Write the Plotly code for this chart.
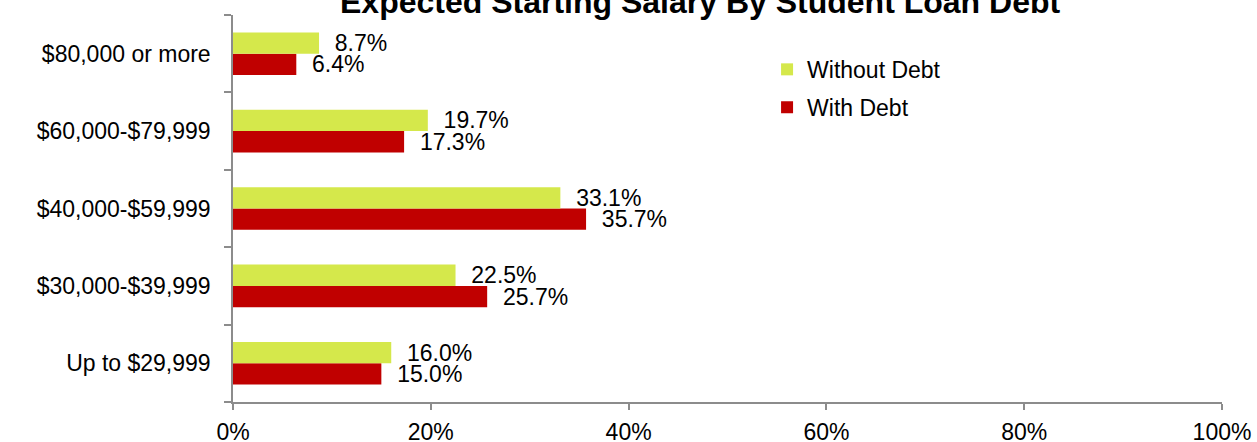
import plotly.graph_objects as go

categories = ["Up to $29,999", "$30,000-$39,999", "$40,000-$59,999",
              "$60,000-$79,999", "$80,000 or more"]
without_debt = [16.0, 22.5, 33.1, 19.7, 8.7]
with_debt = [15.0, 25.7, 35.7, 17.3, 6.4]
x_ticks = [0, 20, 40, 60, 80, 100]
x_tick_labels = [f"{v}%" for v in x_ticks]
title_text = "Expected Starting Salary By Student Loan Debt"

FONT = "Liberation Sans, Arial, sans-serif"
GRAY = "#8c8c8c"
NB = "\u00a0\u00a0"

fig = go.Figure()
fig.add_trace(go.Bar(
    y=categories, x=with_debt, orientation="h", name="With Debt",
    marker=dict(color="#C00000", line=dict(width=0)),
    text=[f"{NB}{v:.1f}%" for v in with_debt], textposition="outside",
    textfont=dict(size=23, color="black", family=FONT),
    cliponaxis=False, legendgroup="b", legendrank=2,
))
fig.add_trace(go.Bar(
    y=categories, x=without_debt, orientation="h", name="Without Debt",
    marker=dict(color="#D5E84B", line=dict(width=0)),
    text=[f"{NB}{v:.1f}%" for v in without_debt], textposition="outside",
    textfont=dict(size=23, color="black", family=FONT),
    cliponaxis=False, legendgroup="a", legendrank=1,
))

fig.update_layout(
    width=1257, height=442,
    margin=dict(l=233, r=35, t=15, b=40, pad=0, autoexpand=False),
    paper_bgcolor="white", plot_bgcolor="white",
    barmode="group", bargap=0.45, bargroupgap=0,
    font=dict(family=FONT, size=23, color="black"),
    showlegend=True,
    legend=dict(x=0.540, y=0.915, xanchor="left", yanchor="top",
                traceorder="grouped", tracegroupgap=5,
                font=dict(size=23, family=FONT), bgcolor="rgba(0,0,0,0)"),
    xaxis=dict(range=[0, 100], tickvals=x_ticks, ticktext=x_tick_labels,
               showgrid=False, zeroline=False, showline=True, automargin=False,
               linecolor=GRAY, linewidth=1.5, ticks="outside", ticklen=6,
               tickcolor=GRAY, tickwidth=1.5, ticklabelstandoff=3,
               tickfont=dict(size=23, family=FONT), fixedrange=True),
    yaxis=dict(showgrid=False, zeroline=False, showline=True, automargin=False,
               linecolor=GRAY, linewidth=1.5, ticks="outside", ticklen=7,
               tickcolor=GRAY, tickwidth=1.5, tickson="boundaries",
               ticklabelstandoff=16, categoryorder="array",
               categoryarray=categories,
               tickfont=dict(size=23, family=FONT), fixedrange=True),
    annotations=[dict(text="<b>" + title_text + "</b>", xref="paper", yref="paper",
                      x=0.472, y=1.034, xanchor="center", yanchor="middle",
                      showarrow=False,
                      font=dict(size=32, family=FONT, color="black"))],
)
fig.update_traces(constraintext="none")

fig.write_html("out.html", config={"displayModeBar": False},
               post_script="document.body.style.margin='0';document.body.style.padding='0';")
